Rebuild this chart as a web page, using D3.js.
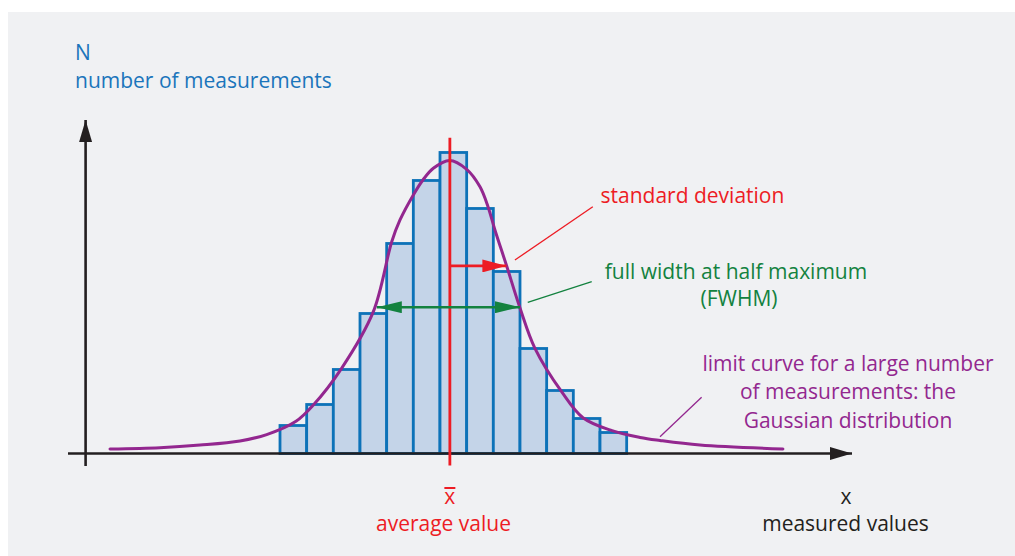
<!DOCTYPE html>
<html>
<head>
<meta charset="utf-8">
<script src="https://cdn.jsdelivr.net/npm/d3@7/dist/d3.min.js"></script>
<style>
  html, body { margin: 0; padding: 0; background: #ffffff; }
  svg { display: block; }
  text { font-family: "Open Sans", "Noto Sans", sans-serif; font-size: 21px; }
</style>
</head>
<body>
<svg id="chart" width="1015" height="556"></svg>
<script>
// Histogram of repeated measurements (lower bin edges, counts per bin)
const binStarts = [0, 1, 2, 3, 4, 5, 6, 7, 8, 9, 10, 11, 12];
const binCounts = [4, 7, 12, 20, 30, 39, 43, 35, 26, 15, 9, 5, 3];
const binWidth = 1;

// Limit curve for many measurements (measured value, N)
const curveX = [-6.375, -4.5, -3.0, -1.5, -0.5, 0.6, 1.25, 2.31, 3.5, 4.19, 4.5, 5.0, 5.36, 5.75,
                6.36, 7.0, 7.5, 7.8, 8.06, 8.5, 9.0, 9.56, 10.56, 11.36, 12.45, 13.5, 14.25, 15.75, 18.86];
const curveN = [0.64, 0.83, 1.21, 1.8, 2.7, 4.6, 6.93, 12.17, 20.26, 30.26, 33.36, 36.93, 39.07, 40.74,
                41.86, 40.6, 38.1, 35.26, 31.93, 26.79, 20.79, 15.03, 8.83, 5.11, 3.26, 2.29, 1.86, 1.21, 0.64];

// Characteristic values of the distribution
const meanValue = 6.37;
const sigmaEnd = 8.49;          // mean + standard deviation
const sigmaLevel = 26.8;        // curve height one sigma from the mean
const fwhmRange = [3.63, 9.0];  // half-maximum crossings
const halfMax = 20.9;

// Leader lines from labels to the marks they describe
const sigmaLeader = [[8.81, 27.64], [11.73, 35.26]];
const fwhmLeader = [[9.29, 21.6], [11.69, 24.54]];
const gaussLeader = [[14.25, 2.4], [15.81, 8.03]];

// Text
const yTitle = ["N", "number of measurements"];
const xTitle = ["x", "measured values"];
const meanLabel = "average value";
const sigmaLabel = "standard deviation";
const fwhmLabel = ["full width at half maximum", "(FWHM)"];
const gaussLabel = ["limit curve for a large number", "of measurements: the", "Gaussian distribution"];

const C = {
  panel: "#f0f1f3",
  barFill: "#c4d4e8",
  barStroke: "#0d72b8",
  curve: "#93278f",
  red: "#ed1c24",
  green: "#13823f",
  blue: "#1b75bb",
  ink: "#231f20"
};

const svg = d3.select("#chart");

const x = d3.scaleLinear().domain([-7.95, 21.45]).range([68, 852]);
const y = d3.scaleLinear().domain([0, 47.64]).range([453.5, 120]);

// background panel
svg.append("rect").attr("x", 8).attr("y", 12).attr("width", 1007).attr("height", 544).attr("fill", C.panel);

const defs = svg.append("defs");
function arrowMarker(id, color, w, h) {
  defs.append("marker")
    .attr("id", id).attr("viewBox", `0 0 ${w} ${h}`)
    .attr("refX", w).attr("refY", h / 2)
    .attr("markerWidth", w).attr("markerHeight", h)
    .attr("markerUnits", "userSpaceOnUse")
    .attr("orient", "auto-start-reverse")
    .append("path").attr("d", `M0,0L${w},${h / 2}L0,${h}Z`).attr("fill", color);
}
arrowMarker("axisHead", C.ink, 22, 13);
arrowMarker("redHead", C.red, 24, 13);
arrowMarker("greenHead", C.green, 25, 12);

// histogram bars
svg.append("g").selectAll("rect")
  .data(binStarts.map((s, i) => ({ s, n: binCounts[i] })))
  .join("rect")
  .attr("x", d => x(d.s))
  .attr("y", d => y(d.n))
  .attr("width", d => x(d.s + binWidth) - x(d.s))
  .attr("height", d => y(0) - y(d.n))
  .attr("fill", C.barFill)
  .attr("stroke", C.barStroke)
  .attr("stroke-width", 2.8);

// axes
const yAxisX = x(-7.29);
svg.append("line")
  .attr("x1", yAxisX).attr("x2", yAxisX)
  .attr("y1", y(0) + 12.5).attr("y2", y.range()[1])
  .attr("stroke", C.ink).attr("stroke-width", 2.6)
  .attr("marker-end", "url(#axisHead)");
svg.append("line")
  .attr("x1", x.range()[0]).attr("x2", x.range()[1])
  .attr("y1", y(0)).attr("y2", y(0))
  .attr("stroke", C.ink).attr("stroke-width", 2.6)
  .attr("marker-end", "url(#axisHead)");

// limit curve
const line = d3.line().x(d => x(d[0])).y(d => y(d[1])).curve(d3.curveCatmullRom.alpha(0.5));
svg.append("path")
  .datum(curveX.map((v, i) => [v, curveN[i]]))
  .attr("d", line)
  .attr("fill", "none")
  .attr("stroke", C.curve)
  .attr("stroke-width", 3)
  .attr("stroke-linecap", "round");

// mean line
svg.append("line")
  .attr("x1", x(meanValue)).attr("x2", x(meanValue))
  .attr("y1", y(45.1)).attr("y2", y(0) + 12)
  .attr("stroke", C.red).attr("stroke-width", 2.8);

// standard deviation arrow
svg.append("line")
  .attr("x1", x(meanValue)).attr("x2", x(sigmaEnd))
  .attr("y1", y(sigmaLevel)).attr("y2", y(sigmaLevel))
  .attr("stroke", C.red).attr("stroke-width", 2.6)
  .attr("marker-end", "url(#redHead)");

// FWHM double arrow
svg.append("line")
  .attr("x1", x(fwhmRange[0])).attr("x2", x(fwhmRange[1]))
  .attr("y1", y(halfMax)).attr("y2", y(halfMax))
  .attr("stroke", C.green).attr("stroke-width", 2.6)
  .attr("marker-start", "url(#greenHead)")
  .attr("marker-end", "url(#greenHead)");

// leader lines
function leader(pts, color) {
  svg.append("line")
    .attr("x1", x(pts[0][0])).attr("y1", y(pts[0][1]))
    .attr("x2", x(pts[1][0])).attr("y2", y(pts[1][1]))
    .attr("stroke", color).attr("stroke-width", 1.3);
}
leader(sigmaLeader, C.red);
leader(fwhmLeader, C.green);
leader(gaussLeader, C.curve);

// labels
const yT = svg.append("g").attr("fill", C.blue);
yT.append("text").attr("x", 75).attr("y", 60).text(yTitle[0]);
yT.append("text").attr("x", 75).attr("y", 88).text(yTitle[1]);

svg.append("text").attr("x", 600.5).attr("y", 203).attr("fill", C.red).text(sigmaLabel);

const fw = svg.append("g").attr("fill", C.green).attr("text-anchor", "middle");
fw.append("text").attr("x", 736).attr("y", 278.5).text(fwhmLabel[0]);
fw.append("text").attr("x", 739).attr("y", 306).text(fwhmLabel[1]);

const gl = svg.append("g").attr("fill", C.curve).attr("text-anchor", "middle");
gaussLabel.forEach((t, i) => gl.append("text").attr("x", 848).attr("y", 371 + i * 28.3).text(t));

// mean symbol (x with overbar) and caption
const mx = x(meanValue);
svg.append("text").attr("x", mx).attr("y", 503.5).attr("fill", C.red).attr("text-anchor", "middle").text("x");
svg.append("line").attr("x1", mx - 5.5).attr("x2", mx + 5.5).attr("y1", 488).attr("y2", 488)
  .attr("stroke", C.red).attr("stroke-width", 2);
svg.append("text").attr("x", 443.5).attr("y", 531).attr("fill", C.red).attr("text-anchor", "middle").text(meanLabel);

const xT = svg.append("g").attr("fill", C.ink).attr("text-anchor", "middle");
xT.append("text").attr("x", 846).attr("y", 503.5).text(xTitle[0]);
xT.append("text").attr("x", 845.5).attr("y", 531).text(xTitle[1]);
</script>
</body>
</html>
